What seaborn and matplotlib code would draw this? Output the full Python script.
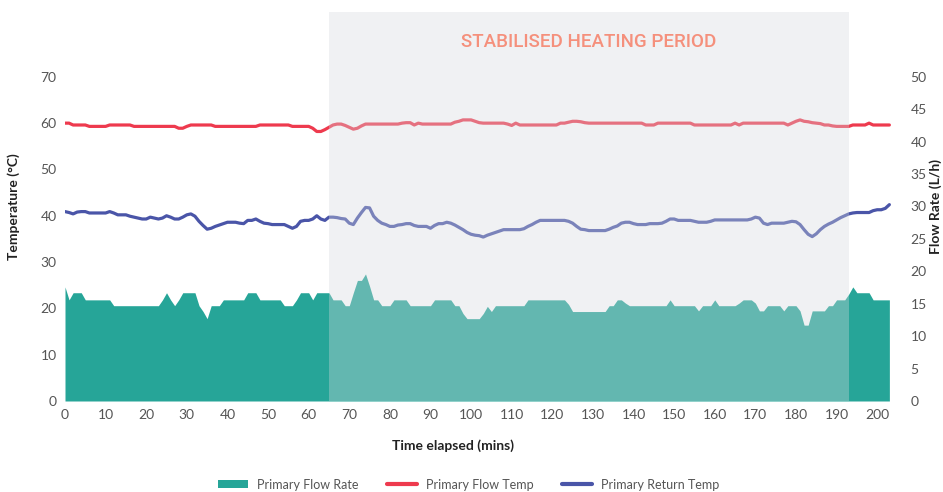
import matplotlib
matplotlib.use("Agg")
import matplotlib.pyplot as plt
import seaborn as sns
import pandas as pd
from matplotlib.lines import Line2D
from matplotlib.patches import Patch

# minutes elapsed, one reading per minute
minutes = list(range(0, 204))

# Primary Flow Rate (L/h), right axis
flow_rate = [
    17.6, 15.6, 16.7, 16.7, 16.7, 15.6, 15.6, 15.6, 15.6, 15.6,
    15.6, 15.6, 14.7, 14.7, 14.7, 14.7, 14.7, 14.7, 14.7, 14.7,
    14.7, 14.7, 14.7, 14.7, 15.6, 16.7, 15.6, 14.7, 15.6, 16.7,
    16.7, 16.7, 16.7, 14.7, 13.8, 12.7, 14.7, 14.7, 14.7, 15.6,
    15.6, 15.6, 15.6, 15.6, 15.6, 16.7, 16.7, 16.7, 15.6, 15.6,
    15.6, 15.6, 15.6, 15.6, 14.7, 14.7, 14.7, 15.6, 16.7, 16.7,
    16.7, 15.6, 16.7, 16.7, 16.7, 16.7, 15.6, 15.6, 15.6, 14.7,
    14.7, 16.7, 18.6, 18.6, 19.6, 17.7, 15.6, 15.6, 14.7, 14.7,
    14.7, 15.6, 15.6, 15.6, 15.6, 14.7, 14.7, 14.7, 14.7, 14.7,
    14.7, 15.6, 15.6, 15.6, 15.6, 15.6, 14.7, 14.7, 13.5, 12.7,
    12.7, 12.7, 12.7, 13.5, 14.6, 13.8, 14.7, 14.7, 14.7, 14.7,
    14.7, 14.7, 14.7, 14.7, 15.6, 15.6, 15.6, 15.6, 15.6, 15.6,
    15.6, 15.6, 15.6, 15.6, 14.9, 13.8, 13.8, 13.8, 13.8, 13.8,
    13.8, 13.8, 13.8, 13.8, 14.7, 14.7, 15.6, 15.6, 15.1, 14.7,
    14.7, 14.7, 14.7, 14.7, 14.7, 14.7, 14.7, 14.7, 14.7, 15.6,
    14.7, 14.7, 14.7, 14.7, 14.7, 14.7, 13.9, 14.7, 14.7, 14.7,
    15.6, 14.7, 14.7, 14.7, 14.7, 14.7, 15.1, 15.6, 15.6, 15.6,
    15.1, 13.9, 13.9, 14.7, 14.7, 14.7, 14.7, 13.9, 14.7, 14.7,
    14.7, 13.9, 11.7, 11.7, 13.9, 13.9, 13.9, 13.9, 14.7, 14.7,
    15.6, 15.6, 15.6, 16.5, 17.6, 16.7, 16.7, 16.7, 16.7, 15.6,
    15.6, 15.6, 15.6, 15.6,
]

# Primary Flow Temp (°C), left axis
flow_temp = [
    60.0, 60.0, 59.6, 59.6, 59.6, 59.6, 59.3, 59.3, 59.3, 59.3,
    59.3, 59.6, 59.6, 59.6, 59.6, 59.6, 59.6, 59.3, 59.3, 59.3,
    59.3, 59.3, 59.3, 59.3, 59.3, 59.3, 59.3, 59.3, 58.9, 58.9,
    59.3, 59.6, 59.6, 59.6, 59.6, 59.6, 59.6, 59.3, 59.3, 59.3,
    59.3, 59.3, 59.3, 59.3, 59.3, 59.3, 59.3, 59.3, 59.6, 59.6,
    59.6, 59.6, 59.6, 59.6, 59.6, 59.6, 59.3, 59.3, 59.3, 59.3,
    59.3, 58.9, 58.2, 58.2, 58.6, 59.1, 59.6, 59.8, 59.8, 59.5,
    59.1, 58.7, 58.9, 59.4, 59.8, 59.8, 59.8, 59.8, 59.8, 59.8,
    59.8, 59.8, 59.8, 60.0, 60.1, 60.1, 59.6, 60.0, 59.8, 59.8,
    59.8, 59.8, 59.8, 59.8, 59.8, 59.8, 60.2, 60.4, 60.7, 60.7,
    60.7, 60.4, 60.1, 60.0, 60.0, 60.0, 60.0, 60.0, 60.0, 59.8,
    59.5, 60.0, 59.6, 59.6, 59.6, 59.6, 59.6, 59.6, 59.6, 59.6,
    59.6, 59.6, 60.0, 60.0, 60.2, 60.4, 60.4, 60.3, 60.1, 60.0,
    60.0, 60.0, 60.0, 60.0, 60.0, 60.0, 60.0, 60.0, 60.0, 60.0,
    60.0, 60.0, 60.0, 59.6, 59.6, 59.6, 60.0, 60.0, 60.0, 60.0,
    60.0, 60.0, 60.0, 60.0, 60.0, 59.6, 59.6, 59.6, 59.6, 59.6,
    59.6, 59.6, 59.6, 59.6, 59.6, 60.0, 59.6, 60.0, 60.0, 60.0,
    60.0, 60.0, 60.0, 60.0, 60.0, 60.0, 60.0, 60.0, 59.6, 60.0,
    60.4, 60.7, 60.4, 60.3, 60.1, 60.0, 59.9, 59.6, 59.6, 59.4,
    59.3, 59.3, 59.3, 59.3, 59.6, 59.6, 59.6, 59.6, 60.0, 59.6,
    59.6, 59.6, 59.6, 59.6,
]

# Primary Return Temp (°C), left axis
return_temp = [
    40.9, 40.7, 40.4, 40.8, 40.9, 40.9, 40.6, 40.6, 40.6, 40.6,
    40.6, 40.9, 40.6, 40.2, 40.2, 40.2, 39.9, 39.7, 39.5, 39.3,
    39.3, 39.7, 39.5, 39.3, 39.5, 40.0, 39.7, 39.3, 39.3, 39.7,
    40.2, 40.4, 39.9, 38.8, 37.9, 37.1, 37.3, 37.7, 38.0, 38.3,
    38.6, 38.6, 38.6, 38.4, 38.3, 39.0, 39.0, 39.3, 38.8, 38.4,
    38.3, 38.1, 38.1, 38.1, 38.1, 37.7, 37.3, 37.7, 38.8, 39.0,
    39.0, 39.3, 40.0, 39.3, 39.0, 39.7, 39.7, 39.6, 39.4, 39.3,
    38.4, 38.1, 39.5, 40.7, 41.8, 41.7, 39.9, 39.0, 38.4, 38.1,
    37.7, 37.7, 38.0, 38.1, 38.3, 38.3, 37.9, 37.7, 37.7, 37.7,
    37.3, 37.9, 38.3, 38.3, 38.6, 38.4, 38.0, 37.5, 37.0, 36.4,
    36.0, 35.8, 35.7, 35.4, 35.8, 36.1, 36.4, 36.7, 37.0, 37.0,
    37.0, 37.0, 37.0, 37.2, 37.7, 38.1, 38.6, 39.0, 39.0, 39.0,
    39.0, 39.0, 39.0, 39.0, 38.8, 38.4, 37.7, 37.1, 37.0, 36.8,
    36.8, 36.8, 36.8, 36.8, 37.1, 37.5, 37.8, 38.4, 38.6, 38.6,
    38.3, 38.1, 38.1, 38.1, 38.3, 38.3, 38.3, 38.4, 38.8, 39.3,
    39.3, 39.0, 39.0, 39.0, 39.0, 38.8, 38.6, 38.6, 38.6, 38.8,
    39.1, 39.1, 39.1, 39.1, 39.1, 39.1, 39.1, 39.1, 39.1, 39.3,
    39.7, 39.5, 38.4, 38.1, 38.4, 38.4, 38.4, 38.4, 38.6, 38.8,
    38.7, 38.1, 37.0, 36.0, 35.5, 36.1, 37.0, 37.7, 38.2, 38.6,
    39.1, 39.6, 40.0, 40.4, 40.6, 40.7, 40.7, 40.7, 40.7, 41.1,
    41.3, 41.3, 41.6, 42.4,
]

period_start = 65
period_end = 193

temp_ticks = [0, 10, 20, 30, 40, 50, 60, 70]
flow_ticks = [0, 5, 10, 15, 20, 25, 30, 35, 40, 45, 50]
time_ticks = [0, 10, 20, 30, 40, 50, 60, 70, 80, 90, 100,
              110, 120, 130, 140, 150, 160, 170, 180, 190, 200]

TEAL = "#26a598"
RED = "#ee3a4e"
BLUE = "#4a55a8"
GREY_TXT = "#555555"

df = pd.DataFrame({
    "minutes": minutes,
    "flow_rate": flow_rate,
    "flow_temp": flow_temp,
    "return_temp": return_temp,
})

sns.set_theme(style="white")
plt.rcParams["font.family"] = ["Lato", "DejaVu Sans"]

fig = plt.figure(figsize=(9.43, 4.92), dpi=100)
ax = fig.add_axes([65 / 943, 91 / 492, 826 / 943, 389 / 492])
ax2 = ax.twinx()

# temperature lines on the left axis
sns.lineplot(data=df, x="minutes", y="flow_temp", color=RED, linewidth=2.3,
             ax=ax, legend=False)
sns.lineplot(data=df, x="minutes", y="return_temp", color=BLUE, linewidth=2.3,
             ax=ax, legend=False)

# flow rate area on the right axis
ax2.fill_between(df["minutes"], 0, df["flow_rate"], color=TEAL, linewidth=0,
                 zorder=1)

# stabilised heating period overlay, drawn above the data
ax2.axvspan(period_start, period_end, color="#d6d9de", alpha=0.35,
            linewidth=0, zorder=5)
ax2.text((period_start + period_end) / 2, 55.4, "STABILISED HEATING PERIOD",
         ha="center", va="center", color="#f5907c", fontsize=13.5,
         family=["Roboto", "DejaVu Sans"], fontweight="medium", zorder=6)

ax.set_xlim(0, 203.4)
ax.set_ylim(0, 84)
ax2.set_ylim(0, 60)
ax.set_xticks(time_ticks)
ax.set_yticks(temp_ticks)
ax2.set_yticks(flow_ticks)

for a in (ax, ax2):
    for s in a.spines.values():
        s.set_visible(False)
    a.tick_params(length=0, labelsize=10, colors=GREY_TXT, pad=6)
ax2.tick_params(axis="y", pad=14)

ax.set_xlabel("Time elapsed (mins)", fontsize=10, fontweight="bold",
              color="#222222")
ax.xaxis.set_label_coords(0.47, -0.098)
ax.set_ylabel("Temperature (°C)", fontsize=10, fontweight="bold",
              color="#222222")
ax.yaxis.set_label_coords(-0.055, 0.5)
ax2.set_ylabel("Flow Rate (L/h)", fontsize=10, fontweight="bold",
               color="#222222", rotation=90)
ax2.yaxis.set_label_coords(1.047, 0.5)

handles = [
    Patch(facecolor=TEAL, edgecolor="none", label="Primary Flow Rate"),
    Line2D([0], [0], color=RED, linewidth=3, label="Primary Flow Temp"),
    Line2D([0], [0], color=BLUE, linewidth=3, label="Primary Return Temp"),
]
leg = fig.legend(handles=handles, loc="center", bbox_to_anchor=(0.497, 0.015),
                 ncol=3, frameon=False, fontsize=9, handlelength=2.4,
                 handleheight=0.6, columnspacing=2.3, handletextpad=0.7)
for t in leg.get_texts():
    t.set_color(GREY_TXT)

plt.savefig("out.png", dpi=100)
